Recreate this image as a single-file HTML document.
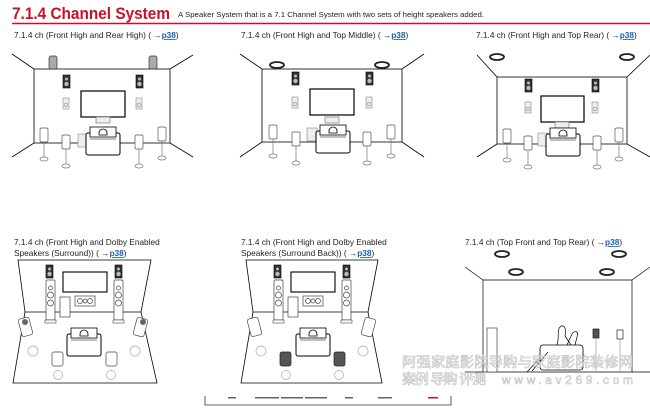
<!DOCTYPE html>
<html><head><meta charset="utf-8"><style>
html,body{margin:0;padding:0;background:#fff;}
svg{display:block;}
text{font-family:"Liberation Sans","Noto Sans CJK SC",sans-serif;}
</style></head><body>
<svg width="650" height="409" viewBox="0 0 650 409" xmlns="http://www.w3.org/2000/svg">
<defs>
  <g id="blk"><rect x="0" y="0" width="7" height="13" fill="#333" stroke="#000" stroke-width="0.6"/><circle cx="3.5" cy="4" r="1.5" fill="#bbb"/><circle cx="3.5" cy="9" r="2.2" fill="#bbb"/></g>
  <g id="sm"><rect x="0" y="0" width="6" height="11" fill="#eee" stroke="#888" stroke-width="0.6"/><circle cx="3" cy="7" r="1.8" fill="none" stroke="#888" stroke-width="0.6"/></g>
  <g id="stand"><rect x="-4" y="0" width="8" height="14" rx="1.5" fill="#fff" stroke="#555" stroke-width="0.7"/><line x1="0" y1="14" x2="0" y2="30" stroke="#777" stroke-width="0.7"/><ellipse cx="0" cy="31" rx="4" ry="2" fill="#fff" stroke="#777" stroke-width="0.7"/></g>
  <g id="chair"><rect x="0" y="6" width="34" height="22" rx="2" fill="#fff" stroke="#000" stroke-width="1"/><rect x="4" y="0" width="26" height="10" fill="#fff" stroke="#000" stroke-width="0.8"/><path d="M13 6 a4 4 0 0 1 8 0 v2 h-8z" fill="#fff" stroke="#000" stroke-width="0.8"/><line x1="4" y1="12" x2="30" y2="12" stroke="#000" stroke-width="0.6"/></g>
  <g id="ceil"><ellipse cx="0" cy="0" rx="7" ry="3" fill="#fff" stroke="#222" stroke-width="1.8"/></g>
  <g id="tower"><rect x="0" y="0" width="9" height="40" rx="1" fill="#fff" stroke="#444" stroke-width="0.7"/><circle cx="4.5" cy="8" r="2" fill="none" stroke="#444" stroke-width="0.7"/><circle cx="4.5" cy="15" r="3" fill="none" stroke="#444" stroke-width="0.7"/><circle cx="4.5" cy="23" r="3" fill="none" stroke="#444" stroke-width="0.7"/><rect x="-1" y="40" width="11" height="3" fill="#fff" stroke="#444" stroke-width="0.6"/></g>
</defs>

<!-- title -->
<text x="12" y="19" font-size="17" font-weight="bold" fill="#c8102e" textLength="158" lengthAdjust="spacingAndGlyphs">7.1.4 Channel System</text>
<text x="178" y="17" font-size="7.3" fill="#222" textLength="306" lengthAdjust="spacingAndGlyphs">A Speaker System that is a 7.1 Channel System with two sets of height speakers added.</text>
<line x1="12" y1="23.5" x2="650" y2="23.5" stroke="#c8102e" stroke-width="1.5"/>

<!-- labels -->
<g font-size="8.3" fill="#222">
<text x="14" y="38">7.1.4 ch (Front High and Rear High) ( →<tspan fill="#1a5fb4" font-weight="bold" text-decoration="underline">p38</tspan>)</text>
<text x="241" y="38">7.1.4 ch (Front High and Top Middle) ( →<tspan fill="#1a5fb4" font-weight="bold" text-decoration="underline">p38</tspan>)</text>
<text x="476" y="38">7.1.4 ch (Front High and Top Rear) ( →<tspan fill="#1a5fb4" font-weight="bold" text-decoration="underline">p38</tspan>)</text>
<text x="14" y="245">7.1.4 ch (Front High and Dolby Enabled</text>
<text x="14" y="256">Speakers (Surround)) ( →<tspan fill="#1a5fb4" font-weight="bold" text-decoration="underline">p38</tspan>)</text>
<text x="241" y="245">7.1.4 ch (Front High and Dolby Enabled</text>
<text x="241" y="256">Speakers (Surround Back)) ( →<tspan fill="#1a5fb4" font-weight="bold" text-decoration="underline">p38</tspan>)</text>
<text x="465" y="245">7.1.4 ch (Top Front and Top Rear) ( →<tspan fill="#1a5fb4" font-weight="bold" text-decoration="underline">p38</tspan>)</text>
</g>

<!-- Panel 1 -->
<g stroke="#000" stroke-width="0.8" fill="none">
<rect x="34" y="69" width="136" height="74"/>
<line x1="12" y1="54" x2="34" y2="69"/><line x1="193" y1="55" x2="170" y2="69"/>
<line x1="12" y1="157" x2="34" y2="143"/><line x1="193" y1="157" x2="170" y2="143"/>
</g>
<rect x="49" y="56" width="8" height="13" rx="2" fill="#aaa" stroke="#333" stroke-width="0.7"/>
<rect x="149" y="56" width="8" height="13" rx="2" fill="#aaa" stroke="#333" stroke-width="0.7"/>
<use href="#blk" x="63" y="75"/><use href="#blk" x="136" y="75"/>
<rect x="81" y="91" width="44" height="26" fill="#fff" stroke="#000" stroke-width="1.2"/>
<use href="#sm" x="63" y="98"/><use href="#sm" x="136" y="98"/>
<rect x="96" y="117" width="14" height="6" fill="#eee" stroke="#666" stroke-width="0.6"/>
<rect x="78" y="134" width="10" height="13" fill="#eee" stroke="#888" stroke-width="0.6"/>
<use href="#stand" x="44" y="128"/><use href="#stand" x="66" y="135" /><use href="#stand" x="139" y="135"/><use href="#stand" x="162" y="127"/>
<use href="#chair" x="86" y="127"/>

<!-- Panel 2 -->
<g stroke="#000" stroke-width="0.8" fill="none">
<rect x="262" y="69" width="140" height="73"/>
<line x1="240" y1="54" x2="262" y2="69"/><line x1="424" y1="54" x2="402" y2="69"/>
<line x1="240" y1="157" x2="262" y2="142"/><line x1="424" y1="157" x2="402" y2="142"/>
</g>
<use href="#ceil" x="277" y="65"/><use href="#ceil" x="382" y="65"/>
<use href="#blk" x="292" y="72"/><use href="#blk" x="366" y="72"/>
<rect x="310" y="89" width="44" height="26" fill="#fff" stroke="#000" stroke-width="1.2"/>
<use href="#sm" x="292" y="97"/><use href="#sm" x="366" y="97"/>
<rect x="325" y="117" width="14" height="6" fill="#eee" stroke="#666" stroke-width="0.6"/>
<rect x="307" y="128" width="10" height="13" fill="#eee" stroke="#888" stroke-width="0.6"/>
<use href="#stand" x="273" y="125"/><use href="#stand" x="296" y="132"/><use href="#stand" x="367" y="132"/><use href="#stand" x="391" y="125"/>
<use href="#chair" x="316" y="125"/>

<!-- Panel 3 -->
<g stroke="#000" stroke-width="0.8" fill="none">
<rect x="497" y="77" width="130" height="67"/>
<line x1="477" y1="55" x2="497" y2="77"/><line x1="650" y1="55" x2="627" y2="77"/>
<line x1="477" y1="157" x2="497" y2="144"/><line x1="650" y1="157" x2="627" y2="144"/>
</g>
<use href="#ceil" x="497" y="57"/><use href="#ceil" x="627" y="57"/>
<use href="#blk" x="525" y="79"/><use href="#blk" x="592" y="79"/>
<rect x="541" y="96" width="43" height="26" fill="#fff" stroke="#000" stroke-width="1.2"/>
<use href="#sm" x="525" y="102"/><use href="#sm" x="592" y="102"/>
<rect x="555" y="122" width="14" height="6" fill="#eee" stroke="#666" stroke-width="0.6"/>
<rect x="538" y="133" width="10" height="13" fill="#eee" stroke="#888" stroke-width="0.6"/>
<use href="#stand" x="507" y="129"/><use href="#stand" x="528" y="136"/><use href="#stand" x="597" y="136"/><use href="#stand" x="619" y="128"/>
<use href="#chair" x="546" y="128"/>

<!-- Panel 4 -->
<g stroke="#000" stroke-width="0.8" fill="none">
<path d="M18 260 L151 260 L141 312 L157 383 L13 383 L25 312 Z"/>
<line x1="25" y1="312" x2="141" y2="312"/>
</g>
<use href="#blk" x="46" y="265"/><use href="#blk" x="115" y="265"/>
<rect x="63" y="272" width="44" height="20" fill="#fff" stroke="#000" stroke-width="1.1"/>
<use href="#tower" x="46" y="280"/><use href="#tower" x="114" y="280"/>
<rect x="60" y="297" width="10" height="20" fill="#fff" stroke="#444" stroke-width="0.7"/>
<rect x="75" y="296" width="20" height="10" fill="#fff" stroke="#444" stroke-width="0.7"/>
<circle cx="80" cy="301" r="2.5" fill="none" stroke="#444" stroke-width="0.7"/><circle cx="85" cy="301" r="2" fill="none" stroke="#444" stroke-width="0.7"/><circle cx="90" cy="301" r="2.5" fill="none" stroke="#444" stroke-width="0.7"/>
<rect x="20" y="318" width="11" height="18" rx="2" fill="#fff" stroke="#444" stroke-width="0.7" transform="rotate(-15 25 327)"/>
<circle cx="25" cy="322" r="3" fill="#666"/>
<circle cx="33" cy="351" r="5" fill="none" stroke="#aaa" stroke-width="0.7"/>
<rect x="135" y="318" width="11" height="18" rx="2" fill="#fff" stroke="#444" stroke-width="0.7" transform="rotate(15 140 327)"/>
<circle cx="143" cy="322" r="3" fill="#666"/>
<circle cx="135" cy="351" r="5" fill="none" stroke="#aaa" stroke-width="0.7"/>
<use href="#chair" x="67" y="328"/>
<rect x="52" y="352" width="11" height="14" rx="2" fill="#fff" stroke="#444" stroke-width="0.7"/>
<rect x="106" y="352" width="11" height="14" rx="2" fill="#fff" stroke="#444" stroke-width="0.7"/>
<circle cx="58" cy="375" r="4.5" fill="none" stroke="#aaa" stroke-width="0.7"/><circle cx="111" cy="375" r="4.5" fill="none" stroke="#aaa" stroke-width="0.7"/>

<!-- Panel 5 -->
<g stroke="#000" stroke-width="0.8" fill="none">
<path d="M246 260 L378 260 L368 312 L382 383 L241 383 L253 312 Z"/>
<line x1="253" y1="312" x2="368" y2="312"/>
</g>
<use href="#blk" x="274" y="265"/><use href="#blk" x="343" y="265"/>
<rect x="291" y="272" width="44" height="20" fill="#fff" stroke="#000" stroke-width="1.1"/>
<use href="#tower" x="274" y="280"/><use href="#tower" x="342" y="280"/>
<rect x="288" y="297" width="10" height="20" fill="#fff" stroke="#444" stroke-width="0.7"/>
<rect x="303" y="296" width="20" height="10" fill="#fff" stroke="#444" stroke-width="0.7"/>
<circle cx="308" cy="301" r="2.5" fill="none" stroke="#444" stroke-width="0.7"/><circle cx="313" cy="301" r="2" fill="none" stroke="#444" stroke-width="0.7"/><circle cx="318" cy="301" r="2.5" fill="none" stroke="#444" stroke-width="0.7"/>
<rect x="249" y="318" width="11" height="18" rx="2" fill="#fff" stroke="#444" stroke-width="0.7" transform="rotate(-15 254 327)"/>
<circle cx="261" cy="351" r="5" fill="none" stroke="#aaa" stroke-width="0.7"/>
<rect x="363" y="318" width="11" height="18" rx="2" fill="#fff" stroke="#444" stroke-width="0.7" transform="rotate(15 368 327)"/>
<circle cx="363" cy="351" r="5" fill="none" stroke="#aaa" stroke-width="0.7"/>
<use href="#chair" x="296" y="328"/>
<rect x="280" y="352" width="11" height="14" rx="2" fill="#555" stroke="#222" stroke-width="0.7"/>
<rect x="334" y="352" width="11" height="14" rx="2" fill="#555" stroke="#222" stroke-width="0.7"/>
<circle cx="286" cy="375" r="4.5" fill="none" stroke="#aaa" stroke-width="0.7"/><circle cx="339" cy="375" r="4.5" fill="none" stroke="#aaa" stroke-width="0.7"/>

<!-- Panel 6 -->
<use href="#ceil" x="502" y="254"/><use href="#ceil" x="619" y="254"/>
<use href="#ceil" x="516" y="272"/><use href="#ceil" x="607" y="272"/>
<g stroke="#000" stroke-width="0.7" fill="none">
<line x1="465" y1="267" x2="483" y2="280"/><line x1="483" y1="280" x2="632" y2="280"/><line x1="632" y1="280" x2="650" y2="267"/>
<line x1="483" y1="280" x2="483" y2="372"/><line x1="632" y1="280" x2="632" y2="372"/>
<line x1="465" y1="372" x2="650" y2="372"/>
</g>
<rect x="487" y="328" width="10" height="44" fill="#fff" stroke="#444" stroke-width="0.7"/>
<rect x="540" y="345" width="43" height="25" rx="3" fill="#fff" stroke="#000" stroke-width="0.8"/>
<path d="M557 345 C560 336 556 330 561 326 C566 325 566 332 565 336 L571 345 M567 345 L572 334 C575 330 579 331 577 337 L575 345 M548 352 L532 371 M540 358 L527 372" fill="none" stroke="#000" stroke-width="0.7"/>
<rect x="593" y="329" width="6" height="9" fill="#555" stroke="#000" stroke-width="0.6"/>
<line x1="596" y1="338" x2="596" y2="371" stroke="#888" stroke-width="0.6"/>
<rect x="617" y="330" width="6" height="9" fill="#fff" stroke="#000" stroke-width="0.6"/>
<line x1="620" y1="339" x2="620" y2="371" stroke="#888" stroke-width="0.6"/>

<!-- watermark -->
<g fill="#fff" stroke="#bbb" stroke-width="0.6" opacity="0.9">
<text x="402" y="367" font-size="14" textLength="231" lengthAdjust="spacingAndGlyphs">阿强家庭影院导购与家庭影院装修网</text>
<text x="402" y="384" font-size="14" textLength="84" lengthAdjust="spacing">案例 导购 评测</text>
<text x="502" y="384" font-size="12" textLength="131" lengthAdjust="spacing">www.av269.com</text>
</g>

<!-- bottom bracket -->
<path d="M205 396 L205 405 L451 405 L451 396" fill="none" stroke="#333" stroke-width="0.8"/>
<g fill="#666">
<rect x="228" y="397" width="8" height="1.5"/><rect x="255" y="397" width="24" height="1.5"/><rect x="281" y="397" width="22" height="1.5"/><rect x="305" y="397" width="22" height="1.5"/><rect x="345" y="397" width="8" height="1.5"/><rect x="378" y="397" width="14" height="1.5"/>
<rect x="428" y="397" width="10" height="1.5" fill="#c8102e"/>
</g>
</svg>
</body></html>
